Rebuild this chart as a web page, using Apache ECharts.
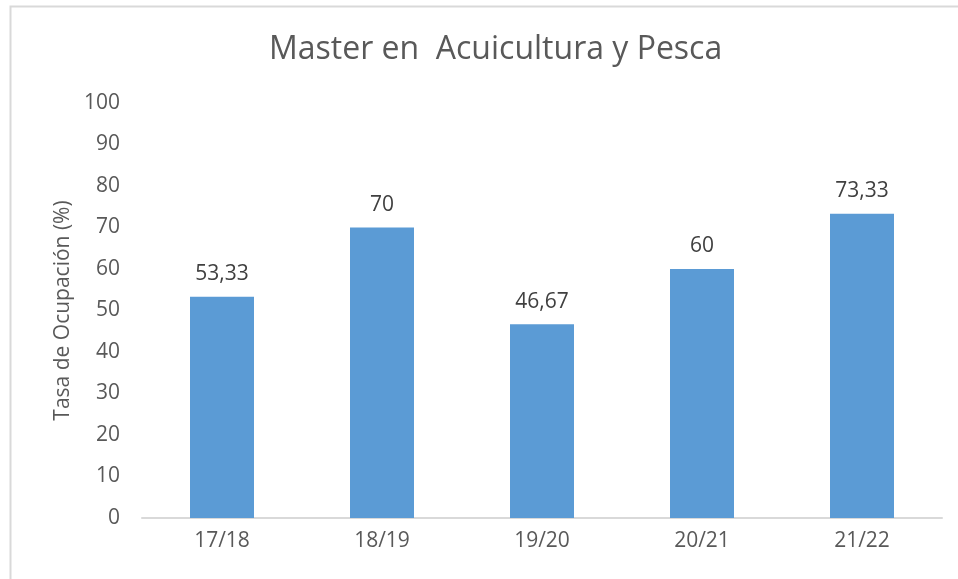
<!DOCTYPE html>
<html><head><meta charset="utf-8">
<script src="https://cdn.jsdelivr.net/npm/echarts@6/dist/echarts.min.js"></script>
<style>html,body{margin:0;padding:0;background:#fff}#c{width:958px;height:579px}</style>
</head><body><div id="c"></div>
<script>
const categories = ['17/18', '18/19', '19/20', '20/21', '21/22'];
const values = [53.33, 70, 46.67, 60, 73.33];
const titleText = 'Master en  Acuicultura y Pesca';
const yAxisName = 'Tasa de Ocupación (%)';

const FONT = '"Open Sans", "Noto Sans", sans-serif';
const chart = echarts.init(document.getElementById('c'));
chart.setOption({
  backgroundColor: '#fff',
  animation: false,
  graphic: [{
    type: 'rect', left: 8, top: 4,
    shape: { width: 960, height: 580 },
    style: { fill: 'none', stroke: '#d9d9d9', lineWidth: 2 }
  }],
  title: {
    text: titleText, left: 264, top: 29,
    textStyle: { fontFamily: FONT, fontSize: 32, fontWeight: 'normal', color: '#595959' }
  },
  grid: { left: 142, right: 16, top: 103, bottom: 61 },
  xAxis: {
    type: 'category', data: categories,
    axisLine: { lineStyle: { color: '#d9d9d9', width: 2 } },
    axisTick: { show: false },
    axisLabel: { fontFamily: FONT, fontSize: 21, color: '#595959', margin: 13 }
  },
  yAxis: {
    type: 'value', min: 0, max: 100, interval: 10,
    name: yAxisName, nameLocation: 'middle', nameGap: 68, nameRotate: 90,
    nameTextStyle: { fontFamily: FONT, fontSize: 21, color: '#595959' },
    axisLine: { show: false }, axisTick: { show: false },
    splitLine: { show: false },
    axisLabel: { fontFamily: FONT, fontSize: 21, color: '#595959', margin: 22 }
  },
  series: [{
    type: 'bar', data: values, barWidth: 64,
    itemStyle: { color: '#5B9BD5' },
    label: {
      show: true, position: 'top', distance: 12,
      fontFamily: FONT, fontSize: 21, color: '#404040',
      formatter: p => String(p.value).replace('.', ',')
    }
  }]
});
</script></body></html>
